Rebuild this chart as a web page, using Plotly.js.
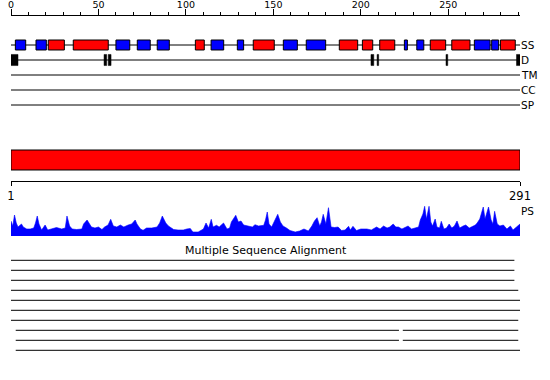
<!DOCTYPE html>
<html>
<head>
<meta charset="utf-8">
<script src="https://cdn.plot.ly/plotly-3.0.1.min.js"></script>
<style>html,body{margin:0;padding:0;background:#fff;}#chart{width:550px;height:380px;}</style>
</head>
<body>
<div id="chart"></div>
<script>
// ---- data ----
const seqLength = 291;
const topTickVals = [0, 50, 100, 150, 200, 250];
const trackNames = ['SS', 'D', 'TM', 'CC', 'SP'];
const trackRows = [4, 3, 2, 1, 0];

// secondary structure elements (H = helix red, E = strand blue)
const ssStart = [2.5,14.3,21.3,35.6,60,72.2,83.6,105.4,114.4,129.4,138.5,155.7,168.8,187.7,200.9,210.8,224.9,232,239.7,252,264.9,274.8,279.8];
const ssEnd   = [8.4,20.2,30.5,55.6,67.9,79.6,90.5,110.5,121.6,133,150.5,163.7,179.9,198.2,206.8,219.4,226.6,236,248.5,262.4,273.9,278.8,288.3];
const ssType  = ['E','E','H','H','E','E','E','H','E','E','H','E','E','H','H','H','E','E','H','H','E','E','H'];

// disorder blocks
const dStart = [-0.5, 53.2, 55.6, 205.8, 209.3, 248.7, 289];
const dEnd   = [4, 54.7, 57.2, 207.4, 210.2, 249.7, 291.5];

// domain bar
const domainStart = [1];
const domainEnd = [291];
const rulerTicks = [1, 291];

// PS profile
const psPos = [0,1,2,3,4,6,7,9,11,13,14,15,16,17.5,19.5,21,23,26,29,31,32,33.5,35,37.5,40.5,41.5,43.5,45,46,48,50,52,53.5,55.5,57,58.5,60.5,62.5,64.5,67,69,71,72,74,75.5,77.5,80.5,83.5,85,86.5,88.5,90,93,95.5,98.5,100.5,102.5,104,107,110,111.5,113,114.5,115.5,117.5,119,121.5,123.5,125,126,127.5,128.5,130,131.5,133,135,136.5,138,139.5,141.5,144.5,145.5,146.5,147.5,149,150.5,152.5,154,155.5,157.5,159.5,162.5,165,167.5,170,172,173.5,175,176.5,177.5,178.5,180,181.5,183,185,187,189,191,193,194,195.5,197.5,200,203.5,206,209,211,213,215,216.5,218.5,220,221.5,223.5,225.5,227,229,231,233,234,235.5,236.5,237.5,239,240,241,242.5,243.5,245,246,247.5,249,250.5,252,253.5,255,256.5,258.5,260,262,264,265.5,266.5,268,270,271,273,274.5,275.5,276.5,278,279.5,281.5,283.5,285.5,287,289,291];
const psVal = [15,10,21,13,9,12,9,7,7,8,13,20,12,6,11,6,7,8.5,7,8,20,10,7,6.5,7,12,16,12,9,8,9,6.5,9,11,16.7,10,9,11,9,11,12,16,12,7,5.7,8,8,9,13,20,13,10,6.5,6,6,7,7.5,4,4,7,13,8,16.7,9,10.7,9,13,7,8,14,18,20.7,14,15,11,10,10,9,11.3,10,10.7,16,24,12,9,14,21.7,14,10,8,5.5,4,5,7,5,10,15,18.3,10,14,21.7,12,28.3,9,8.5,9,5.5,6,9.7,6,9.7,5.5,7,7,6,9,7,10,8,9,12,9,9,7,9,10,7,8,9,16,22,29.7,17,29.7,14,10,17,9,8,14.7,7,8,12,8,10,15,8,10,11,8,10,11,13,17,29,17,29,16,12,24.7,12,10,11,7,10,6,9,12];
const psBaselineEnd = 295.5;

// multiple sequence alignment segments
const msaRow   = [1,2,3,4,5,6,7,8,8,9,9,10];
const msaStart = [0,0,0,0,0,0,0,2.7,224,2.7,224,2.7];
const msaEnd   = [287.8,287.8,287.8,290,291.4,291.4,290,221.8,290,221.8,290,291.4];
const msaTitle = 'Multiple Sequence Alignment';

// ---- build ----
const H = 380;
const py = px => 1 - px / H;
const FONT = 'DejaVu Sans, sans-serif';
const traces = [];

// track baselines
const lx = [], ly = [];
trackRows.forEach(r => { lx.push(0, seqLength, null); ly.push(r, r, null); });
traces.push({type:'scatter', mode:'lines', x:lx, y:ly, xaxis:'x', yaxis:'y',
  line:{color:'#000', width:1}, hoverinfo:'skip'});

function boxes(starts, ends, row, half) {
  const x = [], y = [];
  starts.forEach((s, i) => {
    const e = ends[i];
    x.push(s, e, e, s, s, null);
    y.push(row - half, row - half, row + half, row + half, row - half, null);
  });
  return {x, y};
}
['H', 'E'].forEach(t => {
  const s = [], e = [];
  ssType.forEach((k, i) => { if (k === t) { s.push(ssStart[i]); e.push(ssEnd[i]); } });
  const b = boxes(s, e, trackRows[0], 0.333);
  traces.push({type:'scatter', mode:'lines', x:b.x, y:b.y, xaxis:'x', yaxis:'y',
    fill:'toself', fillcolor: t === 'H' ? '#ff0000' : '#0000ff',
    line:{color:'#000', width:1}, hoverinfo:'skip'});
});
const db = boxes(dStart, dEnd, trackRows[1], 0.37);
traces.push({type:'scatter', mode:'lines', x:db.x, y:db.y, xaxis:'x', yaxis:'y',
  fill:'toself', fillcolor:'#000', line:{color:'#000', width:0.5}, hoverinfo:'skip'});

// domain bar
const dom = boxes(domainStart, domainEnd, 0.5, 0.333);
traces.push({type:'scatter', mode:'lines', x:dom.x, y:dom.y, xaxis:'x2', yaxis:'y2',
  fill:'toself', fillcolor:'#ff0000', line:{color:'#000', width:1}, hoverinfo:'skip'});

// PS profile
traces.push({type:'scatter', mode:'lines', x:[0, psBaselineEnd], y:[0.5, 0.5], xaxis:'x', yaxis:'y3',
  line:{color:'#0000ff', width:1.5}, hoverinfo:'skip'});
traces.push({type:'scatter', mode:'lines', x:psPos, y:psVal, xaxis:'x', yaxis:'y3',
  fill:'tozeroy', fillcolor:'#0000ff', line:{color:'#0000ff', width:0.6}, hoverinfo:'skip'});

// MSA
const mx = [], my = [];
msaRow.forEach((r, i) => { mx.push(msaStart[i], msaEnd[i], null); my.push(r, r, null); });
traces.push({type:'scatter', mode:'lines', x:mx, y:my, xaxis:'x', yaxis:'y4',
  line:{color:'#000', width:1}, hoverinfo:'skip'});

const annotations = trackNames.map((n, i) => ({
  text:n, xref:'x', yref:'y', x:seqLength, y:trackRows[i], xanchor:'left', yanchor:'middle',
  showarrow:false, font:{family:FONT, size:10.5, color:'#000'}, borderpad:0
}));
annotations.push({text:'PS', xref:'x', yref:'paper', x:seqLength, y:py(211), xanchor:'left', yanchor:'middle',
  showarrow:false, font:{family:FONT, size:10.5, color:'#000'}, borderpad:0});
annotations.push({text:msaTitle, xref:'paper', yref:'paper', x:0.5, y:py(250), xanchor:'center', yanchor:'middle',
  showarrow:false, font:{family:FONT, size:11, color:'#000'}});

const layout = {
  width:550, height:380,
  margin:{l:11, r:30, t:0, b:0},
  paper_bgcolor:'#fff', plot_bgcolor:'#fff',
  showlegend:false,
  xaxis:{range:[0, seqLength], domain:[0,1], side:'top', anchor:'free', position:py(15),
    tickvals:topTickVals, ticks:'outside', ticklen:6, tickwidth:1, tickcolor:'#000',
    ticklabelstandoff:-3,
    minor:{dtick:10, tick0:0, ticks:'outside', ticklen:3, tickwidth:1, tickcolor:'#000', showgrid:false},
    showline:true, linecolor:'#000', linewidth:1, showgrid:false, zeroline:false,
    tickfont:{family:FONT, size:9.5, color:'#000'}, fixedrange:true},
  xaxis2:{range:[1, seqLength], domain:[0,1], side:'bottom', anchor:'free', position:py(180.5),
    tickvals:rulerTicks, ticktext:rulerTicks.map(String), ticks:'outside', ticklen:4, tickwidth:1, tickcolor:'#000',
    ticklabelstandoff:1,
    showline:true, linecolor:'#000', linewidth:1, showgrid:false, zeroline:false,
    tickfont:{family:FONT, size:11.5, color:'#000'}, fixedrange:true},
  yaxis:{domain:[py(120), py(30)], range:[-1, 5], visible:false, anchor:'x', fixedrange:true},
  yaxis2:{domain:[py(175), py(145)], range:[0, 1], visible:false, anchor:'x2', fixedrange:true},
  yaxis3:{domain:[py(236), py(206)], range:[0, 30], visible:false, anchor:'x', fixedrange:true},
  yaxis4:{domain:[py(360.3), py(250.3)], range:[11, 0], visible:false, anchor:'x', fixedrange:true},
  annotations
};
Plotly.newPlot('chart', traces, layout, {displayModeBar:false, staticPlot:true});
</script>
</body>
</html>
